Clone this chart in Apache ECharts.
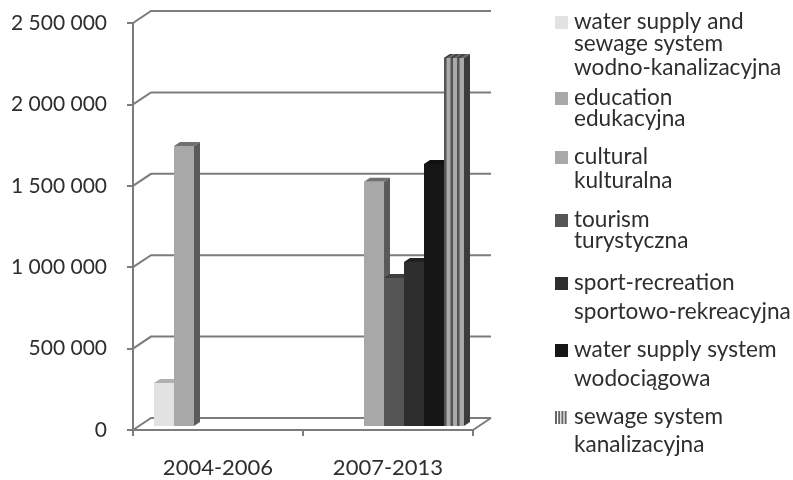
<!DOCTYPE html>
<html>
<head>
<meta charset="utf-8">
<script src="https://cdn.jsdelivr.net/npm/echarts@6/dist/echarts.min.js"></script>
<style>
html,body{margin:0;padding:0;background:#fff}
#main{width:793px;height:480px}
</style>
</head>
<body>
<div id="main"></div>
<script>
var categories = ['2004-2006', '2007-2013'];
var yTicks = [0, 500000, 1000000, 1500000, 2000000, 2500000];

var names = ['water supply and sewage system', 'education', 'cultural', 'tourism', 'sport-recreation', 'water supply system', 'sewage system'];
var waterSewage = [264000, null];
var education = [1720000, null];
var cultural = [null, 1500000];
var tourism = [null, 909000];
var sport = [null, 1007000];
var waterSupply = [null, 1610000];
var sewage = [null, 2260000];
var seriesValues = [waterSewage, education, cultural, tourism, sport, waterSupply, sewage];

var legendLines = [
  ['water supply and', 'sewage system', 'wodno-kanalizacyjna'],
  ['education', 'edukacyjna'],
  ['cultural', 'kulturalna'],
  ['tourism', 'turystyczna'],
  ['sport-recreation', 'sportowo-rekreacyjna'],
  ['water supply system', 'wodociągowa'],
  ['sewage system', 'kanalizacyjna']
];
var legendY = [
  [22, 44, 68],
  [98, 119],
  [157, 181],
  [220, 241],
  [283, 312],
  [350, 379],
  [417, 445]
];

// front, side, top
var shades = [
  ['#e2e2e2', '#bdbdbd', '#b0b0b0'],
  ['#a8a8a8', '#5a5a5a', '#707070'],
  ['#a8a8a8', '#5a5a5a', '#707070'],
  ['#555555', '#333333', '#3d3d3d'],
  ['#2e2e2e', '#1e1e1e', '#222222'],
  ['#161616', '#0c0c0c', '#101010'],
  ['#aaaaaa', '#3c3c3c', '#666666']
];

var depthX = 18, depthY = 12;
var barW = 20, barDX = 6, barDY = 4;
var font = 'Lato';
var lineColor = '#7c7c7c';

var myChart = echarts.init(document.getElementById('main'));

function renderWalls(params, api) {
  var p = api.coord([0, api.value(0)]);
  var size = api.size([1, 0]);
  var x0 = p[0] - size[0] / 2;
  var x1 = x0 + size[0] * categories.length;
  var style = {stroke: lineColor, lineWidth: 2, fill: null};
  var kids = [{type: 'polyline', shape: {points: [[x0, p[1]], [x0 + depthX, p[1] - depthY], [x1 + depthX, p[1] - depthY]]}, style: style}];
  if (api.value(0) === 0) {
    kids.push({type: 'line', shape: {x1: x1, y1: p[1], x2: x1 + depthX, y2: p[1] - depthY}, style: style});
  }
  return {type: 'group', children: kids};
}

function makeBar(slot) {
  return function (params, api) {
    var v = api.value(1);
    if (v === null || isNaN(v)) return null;
    var top = api.coord([api.value(0), v]);
    var base = api.coord([api.value(0), 0]);
    var x = top[0] + (slot - 3.5) * barW + barDX;
    var yT = top[1] - barDY, yB = base[1] - barDY;
    var c = shades[slot];
    var kids = [
      {type: 'polygon', shape: {points: [[x, yT], [x + barDX, yT - barDY], [x + barW + barDX, yT - barDY], [x + barW, yT]]}, style: {fill: c[2]}},
      {type: 'polygon', shape: {points: [[x + barW, yT], [x + barW + barDX, yT - barDY], [x + barW + barDX, yB - barDY], [x + barW, yB]]}, style: {fill: c[1]}},
      {type: 'rect', shape: {x: x, y: yT, width: barW, height: yB - yT}, style: {fill: c[0]}}
    ];
    // striped pattern of the last series
    if (slot === 6) {
      for (var i = 0; i < 3; i++) {
        kids.push({type: 'rect', shape: {x: x + i * 6.5, y: yT, width: 2.5, height: yB - yT}, style: {fill: '#555'}});
        kids.push({type: 'polygon', shape: {points: [[x + i * 6.5, yT], [x + i * 6.5 + barDX, yT - barDY], [x + i * 6.5 + barDX + 2.5, yT - barDY], [x + i * 6.5 + 2.5, yT]]}, style: {fill: '#3c3c3c'}});
      }
    }
    return {type: 'group', children: kids};
  };
}

var series = [{
  type: 'custom',
  name: 'walls',
  data: yTicks.map(function (t) { return [t]; }),
  encode: {y: 0},
  renderItem: renderWalls,
  silent: true,
  z: 1
}];
names.forEach(function (n, i) {
  series.push({
    type: 'custom',
    name: n,
    data: categories.map(function (c, k) { return [k, seriesValues[i][k]]; }),
    encode: {x: 0, y: 1},
    renderItem: makeBar(i),
    z: 2 + i
  });
});

// legend: text wraps unevenly in the original, so placed by hand
var legendEls = [];
legendLines.forEach(function (lines, i) {
  var boxY = legendY[i][0] - 6;
  if (i === 6) {
    for (var s = 0; s < 4; s++) {
      legendEls.push({type: 'rect', left: 555 + s * 3.2, top: boxY, shape: {width: 2, height: 13}, style: {fill: '#666'}});
    }
  } else {
    legendEls.push({type: 'rect', left: 555, top: boxY, shape: {width: 13, height: 13}, style: {fill: shades[i][0]}});
  }
  lines.forEach(function (t, k) {
    legendEls.push({type: 'text', left: 574, top: legendY[i][k] - 12, style: {text: t, font: '22.6px ' + font, fill: '#2e2e2e'}});
  });
});

var option = {
  animation: false,
  backgroundColor: '#fff',
  grid: {left: 133, right: 320, top: 23, bottom: 50},
  xAxis: {
    type: 'category',
    data: categories,
    axisLine: {lineStyle: {color: lineColor, width: 2}},
    axisTick: {show: true, length: 6, lineStyle: {color: lineColor, width: 2}},
    axisLabel: {color: '#2e2e2e', fontFamily: font, fontSize: 22, margin: 27}
  },
  yAxis: {
    type: 'value',
    min: 0,
    max: 2500000,
    interval: 500000,
    splitLine: {show: false},
    axisLine: {show: true, lineStyle: {color: lineColor, width: 2}},
    axisTick: {show: true, length: 6, lineStyle: {color: lineColor, width: 2}},
    axisLabel: {
      color: '#2e2e2e',
      fontFamily: font,
      fontSize: 21,
      margin: 26,
      formatter: function (v) { return String(v).replace(/\B(?=(\d{3})+$)/g, ' '); }
    }
  },
  graphic: legendEls,
  series: series
};

myChart.setOption(option);
</script>
</body>
</html>
